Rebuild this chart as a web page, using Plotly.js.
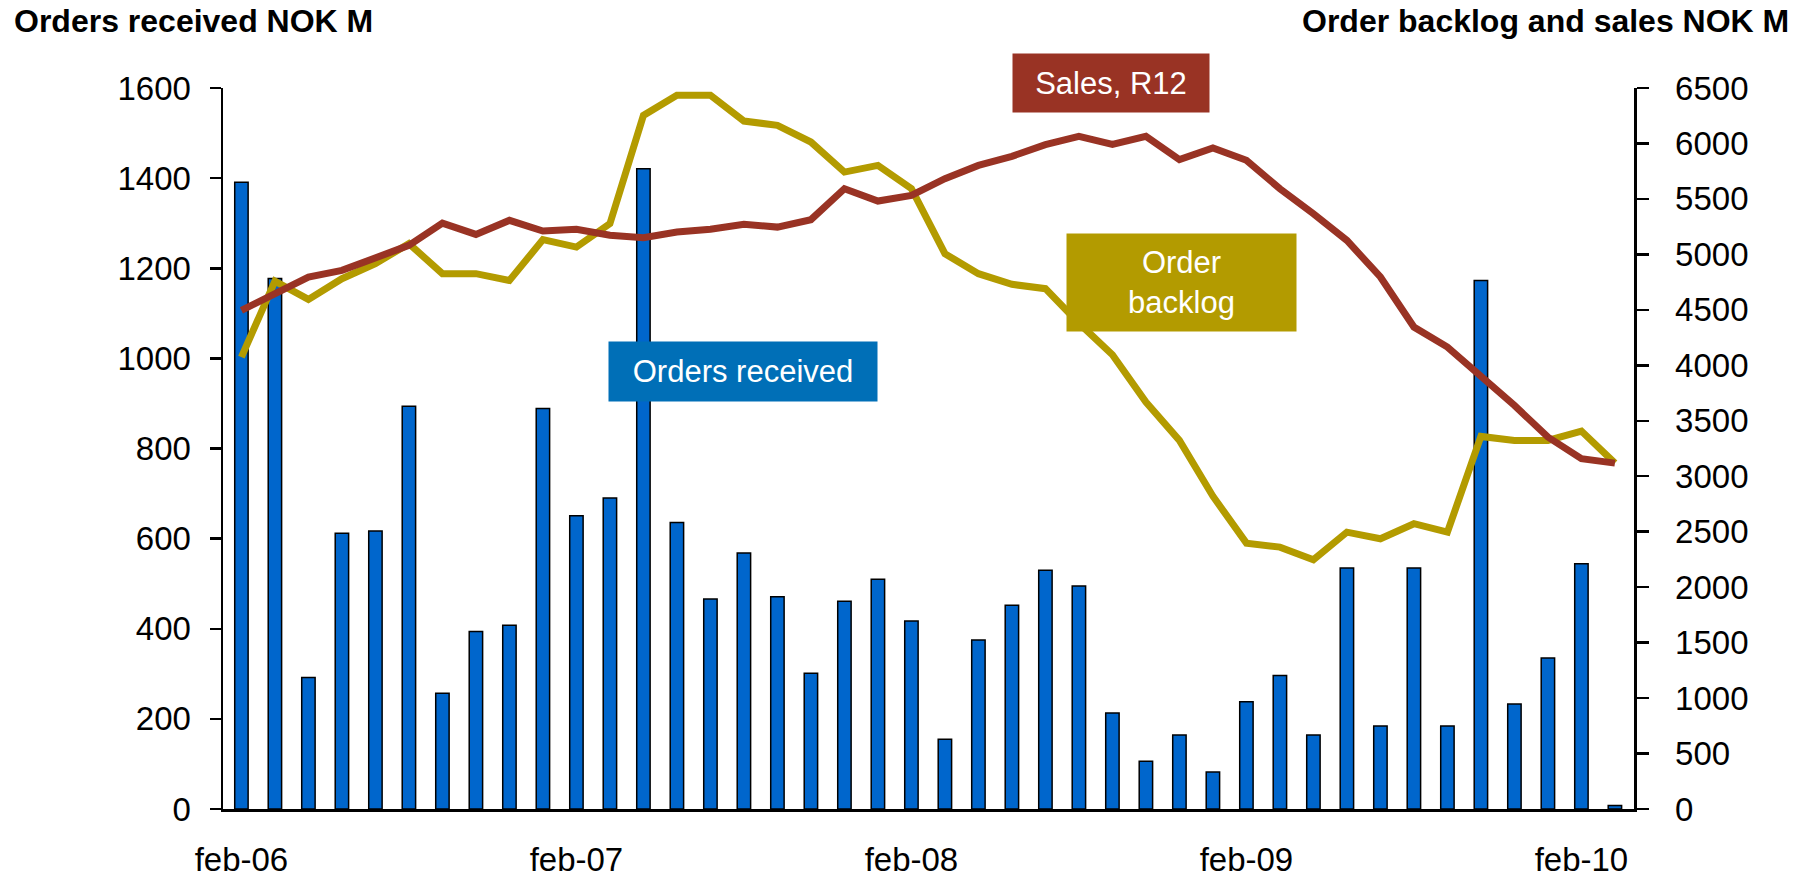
<!DOCTYPE html>
<html>
<head>
<meta charset="utf-8">
<script src="https://cdn.plot.ly/plotly-3.0.1.min.js"></script>
<style>
  html, body { margin: 0; padding: 0; background: #ffffff; }
  #chart { width: 1816px; height: 882px; }
</style>
</head>
<body>
<div id="chart"></div>
<script>
// Period index (42 reporting periods, feb-06 .. feb-10 labelled every 10th)
const periods = [0,1,2,3,4,5,6,7,8,9,10,11,12,13,14,15,16,17,18,19,20,21,22,23,24,25,26,27,28,29,30,31,32,33,34,35,36,37,38,39,40,41];
const tickPositions = [0, 10, 20, 30, 40];
const tickLabels = ['feb-06', 'feb-07', 'feb-08', 'feb-09', 'feb-10'];

// Orders received, NOK M (left axis)
const ordersReceived = [1391, 1177, 292, 612, 617, 894, 257, 394, 408, 889,
                        651, 690, 1421, 636, 466, 568, 471, 301, 461, 510,
                        417, 155, 375, 452, 530, 495, 213, 106, 164, 82,
                        238, 296, 164, 535, 184, 535, 184, 1173, 233, 335,
                        544, 8];

// Order backlog, NOK M (right axis)
const orderBacklog = [4074, 4759, 4594, 4781, 4916, 5097, 4826, 4826, 4765, 5133,
                      5066, 5277, 6253, 6434, 6434, 6202, 6163, 6013, 5742, 5802,
                      5592, 5006, 4826, 4730, 4691, 4380, 4095, 3668, 3323, 2820,
                      2397, 2361, 2247, 2496, 2436, 2572, 2496, 3359, 3323, 3323,
                      3407, 3118];

// Sales, rolling 12 months, NOK M (right axis)
const salesR12 = [4495, 4646, 4796, 4856, 4961, 5081, 5282, 5180, 5307, 5210,
                  5226, 5172, 5151, 5201, 5226, 5271, 5246, 5313, 5592, 5481,
                  5532, 5683, 5802, 5884, 5989, 6064, 5992, 6064, 5854, 5960,
                  5848, 5592, 5367, 5126, 4796, 4345, 4164, 3900, 3638, 3353,
                  3158, 3118];

const FONT = 'Liberation Sans, Arial, sans-serif';
const BLUE = '#0066CC';
const BOX_BLUE = '#006FB7';
const RED = '#993324';
const GOLD = '#B39B00';

const traces = [
  {
    type: 'bar', x: periods, y: ordersReceived, yaxis: 'y',
    width: 0.4,
    marker: { color: BLUE, line: { color: '#000000', width: 1.5 } },
    hoverinfo: 'skip'
  },
  {
    type: 'scatter', mode: 'lines', x: periods, y: orderBacklog, yaxis: 'y2',
    line: { color: GOLD, width: 7 }, hoverinfo: 'skip'
  },
  {
    type: 'scatter', mode: 'lines', x: periods, y: salesR12, yaxis: 'y2',
    line: { color: RED, width: 7 }, hoverinfo: 'skip'
  }
];

const layout = {
  width: 1816, height: 882,
  margin: { l: 223, r: 182, t: 88, b: 73 },
  paper_bgcolor: '#ffffff', plot_bgcolor: '#ffffff',
  showlegend: false,
  font: { family: FONT, size: 33, color: '#000000' },
  bargap: 0.6,
  xaxis: {
    range: [-0.55, 41.57],
    tickvals: tickPositions, ticktext: tickLabels,
    ticks: '', showgrid: false, zeroline: false,
    showline: true, linecolor: '#000000', linewidth: 2.5,
    tickfont: { family: FONT, size: 33 },
    ticklabelstandoff: 20,
    fixedrange: true
  },
  yaxis: {
    range: [0, 1600], dtick: 200, tick0: 0,
    ticks: 'outside', ticklen: 11, tickwidth: 2.5, tickcolor: '#000000',
    showline: true, linecolor: '#000000', linewidth: 2.5,
    showgrid: false, zeroline: false,
    tickfont: { family: FONT, size: 33 },
    ticklabelstandoff: 12,
    fixedrange: true
  },
  yaxis3: {
    overlaying: 'y', side: 'left', anchor: 'x',
    range: [0, 1600], dtick: 200, tick0: 0,
    ticks: 'inside', ticklen: 11, tickwidth: 2.5, tickcolor: '#000000',
    showticklabels: false, showline: false, showgrid: false, zeroline: false,
    fixedrange: true
  },
  yaxis2: {
    overlaying: 'y', side: 'right', anchor: 'x',
    range: [0, 6500], dtick: 500, tick0: 0,
    ticks: 'outside', ticklen: 12, tickwidth: 2.5, tickcolor: '#000000',
    showline: true, linecolor: '#000000', linewidth: 2.5,
    showgrid: false, zeroline: false,
    tickfont: { family: FONT, size: 33 },
    ticklabelstandoff: 20,
    fixedrange: true
  },
  annotations: [
    {
      xref: 'paper', yref: 'paper', x: -0.1498, y: 1.0929,
      xanchor: 'left', yanchor: 'middle', showarrow: false,
      text: '<b>Orders received NOK M</b>',
      font: { family: FONT, size: 32, color: '#000000' }
    },
    {
      xref: 'paper', yref: 'paper', x: 1.1113, y: 1.0929,
      xanchor: 'right', yanchor: 'middle', showarrow: false,
      text: '<b>Order backlog and sales NOK M</b>',
      font: { family: FONT, size: 32, color: '#000000' }
    },
    {
      xref: 'paper', yref: 'paper', x: 0.3685, y: 0.6068,
      xanchor: 'center', yanchor: 'middle', showarrow: false,
      text: 'Orders received', bgcolor: BOX_BLUE,
      width: 268, height: 59, borderpad: 0,
      font: { family: FONT, size: 31, color: '#ffffff' }
    },
    {
      xref: 'paper', yref: 'paper', x: 0.6293, y: 1.0069,
      xanchor: 'center', yanchor: 'middle', showarrow: false,
      text: 'Sales, R12', bgcolor: RED,
      width: 196, height: 58, borderpad: 0,
      font: { family: FONT, size: 31, color: '#ffffff' }
    },
    {
      xref: 'paper', yref: 'paper', x: 0.6793, y: 0.7302,
      xanchor: 'center', yanchor: 'middle', showarrow: false,
      text: 'Order<br>backlog', bgcolor: GOLD,
      width: 229, height: 97, borderpad: 0,
      font: { family: FONT, size: 31, color: '#ffffff' }
    }
  ]
};

Plotly.newPlot('chart', traces, layout, { staticPlot: true, displayModeBar: false });
</script>
</body>
</html>
